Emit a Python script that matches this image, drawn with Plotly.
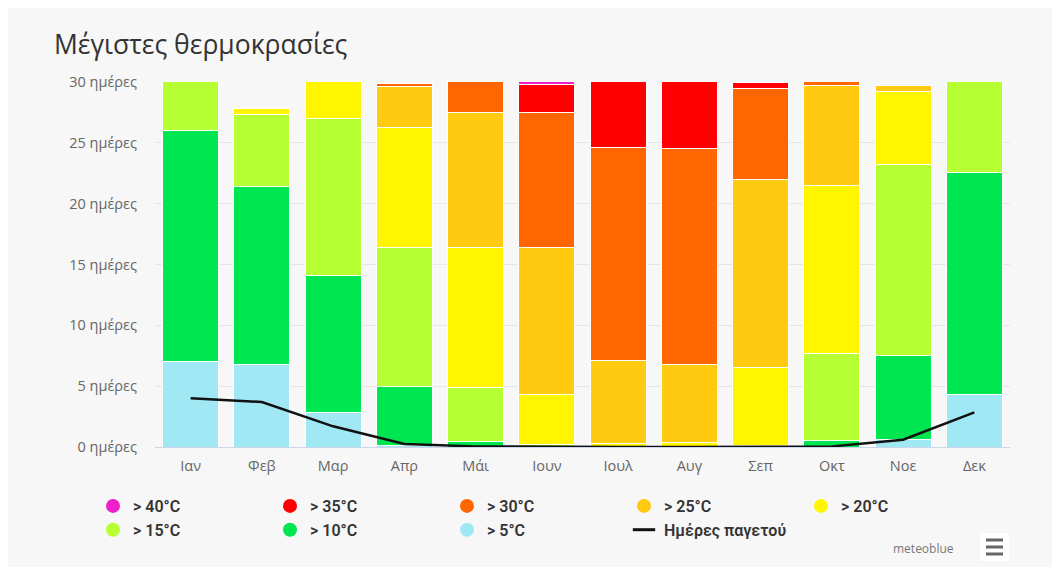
import plotly.graph_objects as go

months = ["Ιαν", "Φεβ", "Μαρ", "Απρ", "Μάι", "Ιουν", "Ιουλ", "Αυγ", "Σεπ", "Οκτ", "Νοε", "Δεκ"]

gt5 = [7.0, 6.8, 2.8, 0.15, 0, 0, 0, 0, 0, 0, 0.6, 4.3]
gt10 = [19.0, 14.6, 11.3, 4.85, 0.45, 0, 0, 0, 0, 0.55, 6.95, 18.3]
gt15 = [5.0, 5.9, 12.9, 11.4, 4.4, 0.2, 0, 0, 0.15, 7.1, 15.7, 8.4]
gt20 = [0, 0.5, 4.0, 9.9, 11.55, 4.1, 0.3, 0.4, 6.35, 13.85, 6.0, 0]
gt25 = [0, 0, 0, 3.36, 11.1, 12.1, 6.85, 6.35, 15.5, 8.25, 0.45, 0]
gt30 = [0, 0, 0, 0.2, 3.5, 11.1, 17.45, 17.75, 7.5, 1.25, 0, 0]
gt35 = [0, 0, 0, 0, 0, 2.3, 6.4, 6.5, 0.5, 0, 0, 0]
gt40 = [0, 0, 0, 0, 0, 0.22, 0, 0, 0, 0, 0, 0]
frost_days = [4.0, 3.7, 1.7, 0.25, 0.05, 0, 0, 0, 0, 0.05, 0.6, 2.85]

series_names = ["> 5°C", "> 10°C", "> 15°C", "> 20°C", "> 25°C", "> 30°C", "> 35°C", "> 40°C"]
series_values = [gt5, gt10, gt15, gt20, gt25, gt30, gt35, gt40]
series_colors = ["#A0E8F4", "#00E650", "#B5FF33", "#FFF500", "#FFCA10", "#FF6600", "#FF0000", "#EE1ECB"]

ytick_vals = [0, 5, 10, 15, 20, 25, 30]
ytick_text = ["0 ημέρες", "5 ημέρες", "10 ημέρες", "15 ημέρες", "20 ημέρες", "25 ημέρες", "30 ημέρες"]

fig = go.Figure()

# stacked bars (bottom first)
for name, vals, col in zip(series_names, series_values, series_colors):
    fig.add_trace(go.Bar(
        x=months, y=vals, name=name, showlegend=False,
        marker=dict(color=col, line=dict(color="white", width=1)),
    ))

# frost days line
fig.add_trace(go.Scatter(
    x=months, y=frost_days, mode="lines", name="Ημέρες παγετού",
    line=dict(color="#111111", width=2.5), showlegend=False,
))

# legend entries (circles), ordered as in the reference
legend_font = dict(family="Roboto, sans-serif", size=16, color="#333333", weight=600)
rank = 1
for name, col in reversed(list(zip(series_names, series_colors))):
    fig.add_trace(go.Scatter(
        x=[None], y=[None], mode="markers", name=name,
        marker=dict(color=col, size=14, symbol="circle"),
        legendrank=rank,
    ))
    rank += 1
fig.add_trace(go.Scatter(
    x=[None], y=[None], mode="markers", name="Ημέρες παγετού",
    marker=dict(symbol="line-ew", size=16, color="#111111", line=dict(color="#111111", width=3)),
    legendrank=rank,
))

W, H = 1052, 559
L, R, T, B = 147, 50, 74, 120
pw = W - L - R
ph = H - T - B

def px_x(p):
    return (p - L) / pw

def px_y(p):
    return (H - B - p) / ph

shapes = [
    # menu button
    dict(type="rect", xref="paper", yref="paper", x0=px_x(972), x1=px_x(1001), y0=px_y(525), y1=px_y(553),
         fillcolor="#FFFFFF", line=dict(width=0)),
]
for yy in (532, 539, 546):
    shapes.append(dict(type="line", xref="paper", yref="paper", x0=px_x(978), x1=px_x(995),
                       y0=px_y(yy), y1=px_y(yy), line=dict(color="#666666", width=3)))

fig.update_layout(
    width=W, height=H,
    margin=dict(l=L, r=R, t=T, b=B, pad=0),
    paper_bgcolor="#F7F7F7",
    plot_bgcolor="#F7F7F7",
    barmode="stack",
    bargap=0.215,
    title=dict(text="Μέγιστες θερμοκρασίες", x=46 / W, xanchor="left", xref="container",
               y=1 - 37 / H, yanchor="middle", yref="container",
               font=dict(family="Open Sans, sans-serif", size=26.5, color="#333333")),
    font=dict(family="Open Sans, sans-serif"),
    xaxis=dict(
        showgrid=False, showline=True, linecolor="#CCD6EB", linewidth=1,
        tickfont=dict(size=14.5, color="#666666"), ticks="", ticklabelstandoff=6,
    ),
    yaxis=dict(
        range=[0, 30], tickvals=ytick_vals, ticktext=ytick_text,
        showgrid=True, gridcolor="#E6E6E6", gridwidth=1, zeroline=False,
        tickfont=dict(size=14.5, color="#666666"), ticks="", ticklabelstandoff=17,
    ),
    legend=dict(
        orientation="h", xref="paper", yref="paper",
        x=px_x(85), xanchor="left", y=px_y(481), yanchor="top",
        entrywidth=132, entrywidthmode="pixels", itemwidth=30,
        font=legend_font, bgcolor="rgba(0,0,0,0)", traceorder="normal",
        tracegroupgap=0,
    ),
    shapes=shapes,
    annotations=[
        dict(text="meteoblue", xref="paper", yref="paper", x=px_x(948), y=px_y(540),
             xanchor="right", yanchor="middle", showarrow=False,
             font=dict(family="Open Sans, sans-serif", size=12, color="#777777")),
    ],
    hovermode=False,
)

fig.write_html("out.html")
